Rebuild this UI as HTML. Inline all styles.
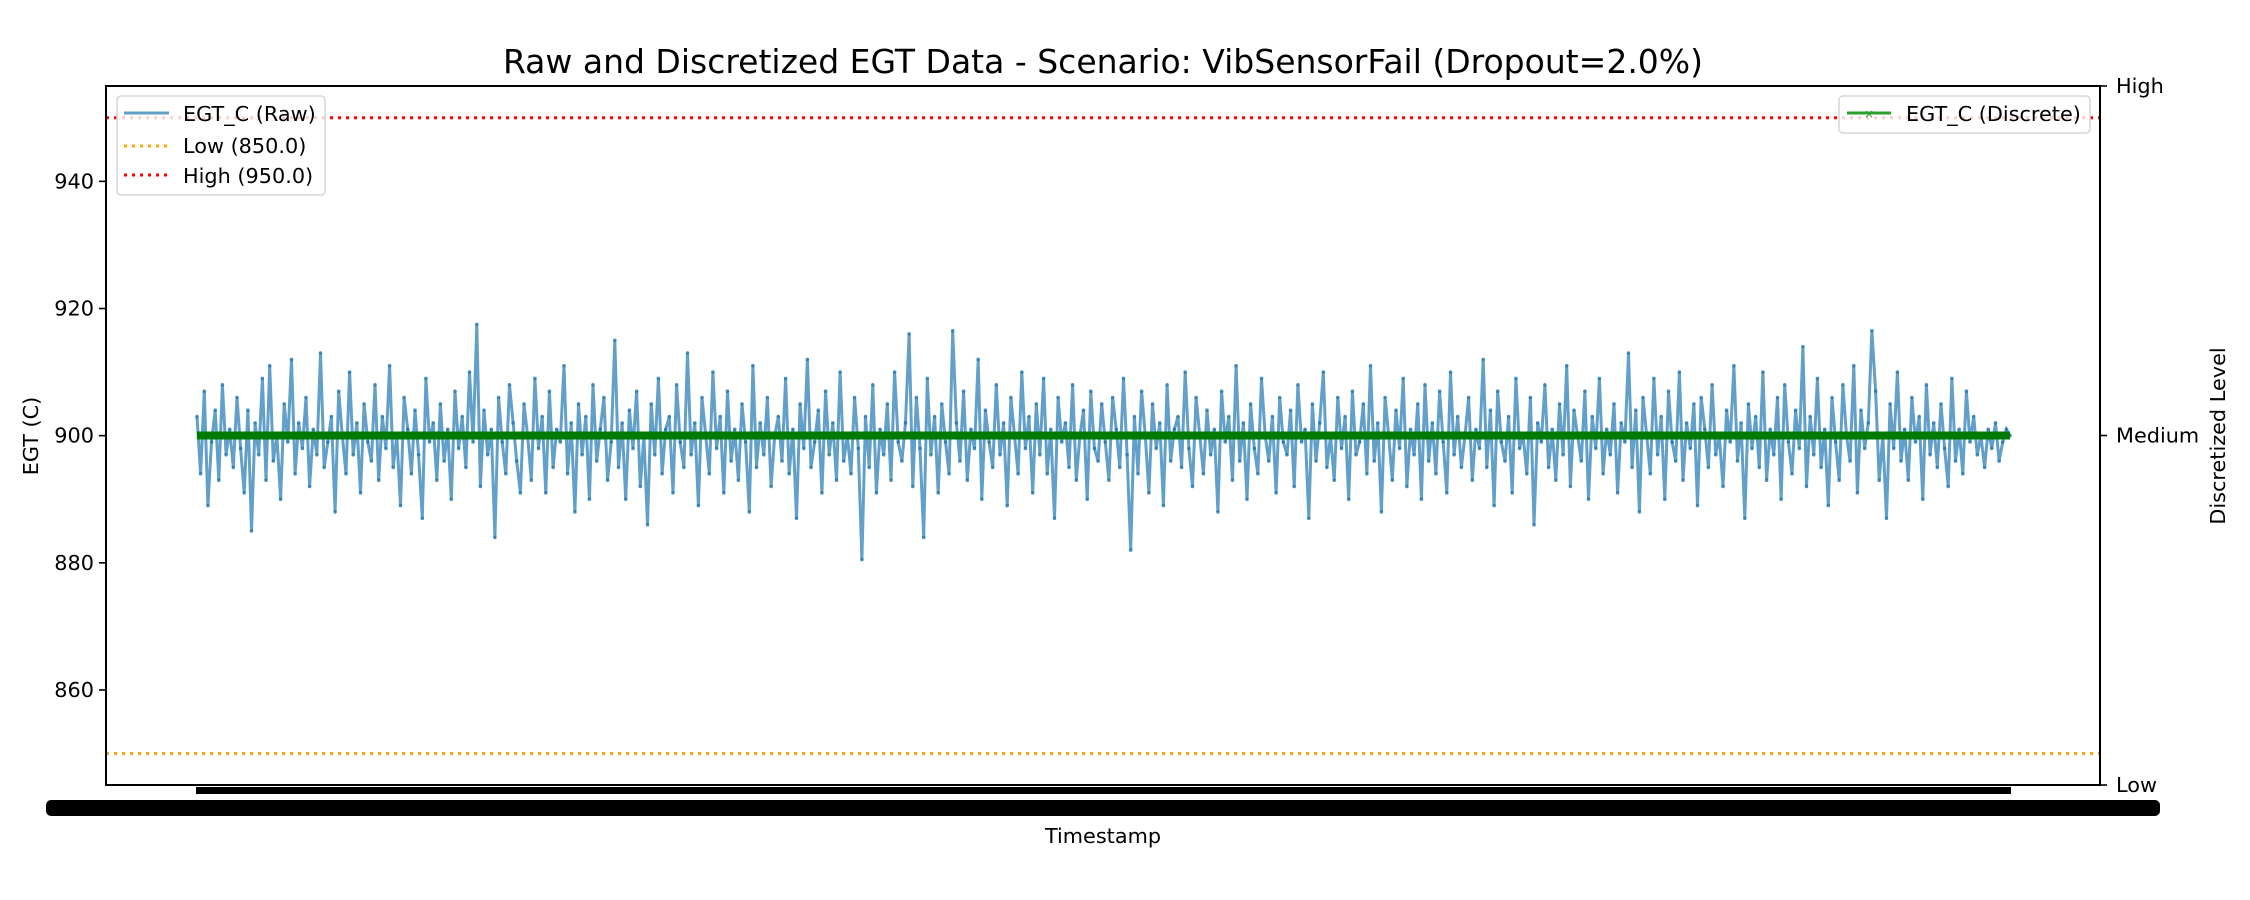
<!DOCTYPE html>
<html><head><meta charset="utf-8"><style>
html,body{margin:0;padding:0;background:#fff;}
svg{display:block;font-family:"DejaVu Sans","Liberation Sans",sans-serif;}
</style></head><body>
<svg id="chart" width="2250" height="900" viewBox="0 0 2250 900">
<rect width="2250" height="900" fill="#fff"/>
<text x="1103" y="73" font-size="33" text-anchor="middle" fill="#000">Raw and Discretized EGT Data - Scenario: VibSensorFail (Dropout=2.0%)</text>
<g id="plot"></g>
<g id="axes"></g>
<text x="1103" y="843" font-size="20.8" text-anchor="middle">Timestamp</text>
<text transform="translate(38,436) rotate(-90)" font-size="20.8" text-anchor="middle">EGT (C)</text>
<text transform="translate(2225,436) rotate(-90)" font-size="20.8" text-anchor="middle">Discretized Level</text>
<g>
<rect x="117" y="96" width="208" height="99" rx="4" fill="#fff" fill-opacity="0.8" stroke="#d6d6d6" stroke-width="1.5"/>
<g><line x1="124" y1="113" x2="169" y2="113" stroke="#1f77b4" stroke-opacity="0.7" stroke-width="3"/><text x="183" y="121" font-size="20.8">EGT_C (Raw)</text></g>
<g><line x1="124" y1="146" x2="169" y2="146" stroke="orange" stroke-width="3" stroke-dasharray="3,5"/><text x="183" y="153" font-size="20.8">Low (850.0)</text></g>
<g><line x1="124" y1="175" x2="169" y2="175" stroke="red" stroke-width="3" stroke-dasharray="3,5"/><text x="183" y="183" font-size="20.8">High (950.0)</text></g>
</g>
<g>
<rect x="1839" y="96" width="251" height="37" rx="4" fill="#fff" fill-opacity="0.8" stroke="#d6d6d6" stroke-width="1.5"/>
<g><line x1="1847" y1="113" x2="1891" y2="113" stroke="#2ca02c" stroke-width="3"/><text x="1869" y="118" font-size="12" fill="#2ca02c" text-anchor="middle">×</text><text x="1906" y="121" font-size="20.8">EGT_C (Discrete)</text></g>
</g>
</svg>
<script>
const egtRaw=[
903,894,907,889,899,904,893,908,897,901,
895,906,898,891,904,885,902,897,909,893,
911,896,900,890,905,899,912,894,902,898,
906,892,901,897,913,895,899,903,888,907,
900,894,910,897,902,891,905,899,896,908,
893,903,898,911,895,900,889,906,901,894,
904,897,887,909,899,902,893,905,896,901,
890,907,898,903,895,910,899,917.5,892,904,
897,901,884,906,899,894,908,902,896,891,
905,900,893,909,898,903,891,907,895,901,
899,911,894,902,888,905,897,903,890,908,
896,901,906,893,899,915,895,902,890,904,
898,907,892,900,886,905,897,909,894,901,
903,891,908,899,895,913,897,902,889,906,
900,894,910,898,903,891,907,896,901,893,
905,899,888,911,895,902,897,906,892,900,
903,896,909,894,901,887,905,898,912,895,
899,904,891,907,897,902,893,910,896,900,
894,906,898,880.5,903,895,908,891,901,897,
905,893,910,899,896,902,916,892,906,898,
884,909,897,903,891,905,899,894,916.5,902,
896,907,893,901,898,912,890,904,899,895,
908,897,902,889,906,900,894,910,898,903,
891,905,897,909,894,901,887,906,899,902,
895,908,893,900,904,890,907,898,896,905,
899,893,906,901,895,909,897,882,903,894,
907,900,891,905,898,902,889,908,896,901,
903,895,910,898,892,906,900,894,904,897,
901,888,907,899,903,893,911,896,902,890,
905,898,894,909,900,896,903,891,906,899,
897,904,892,908,899,901,887,905,896,902,
910,895,900,893,906,898,903,890,907,897,
899,905,894,911,896,902,888,906,900,893,
904,898,909,892,901,897,905,890,908,896,
902,894,907,899,891,910,897,903,895,900,
906,893,901,898,912,895,904,889,907,899,
896,903,891,909,898,900,894,906,886,902,
899,908,895,901,893,905,897,911,892,904,
900,896,907,890,903,898,909,894,901,897,
905,891,902,899,913,895,904,888,906,900,
894,909,897,903,890,907,899,896,910,893,
902,898,905,889,906,901,895,908,897,900,
892,904,899,911,896,902,887,905,898,903,
895,910,893,901,897,906,890,908,899,894,
904,898,914,892,903,897,909,895,901,889,
906,899,893,908,900,896,911,891,904,898,
902,916.5,907,893,900,887,905,898,910,896,
901,893,906,899,903,890,908,897,902,895,
905,898,892,909,896,901,894,907,899,903,
897,900,895,901,898,902,896,899,901,900];
const yTicks=[860,880,900,920,940];
const levelLabels=['Low','Medium','High'];
const thresholds=[850,950];
const NS='http://www.w3.org/2000/svg';
const L=106,R=2100,T=86,B=785,X0=197,X1=2010,YMIN=845.05,YMAX=955.0;
const xs=i=>X0+i*(X1-X0)/(egtRaw.length-1);
const ys=v=>B-(v-YMIN)/(YMAX-YMIN)*(B-T);
const yl=l=>B-l/(levelLabels.length-1)*(B-T);
const discrete=egtRaw.map(v=>v<thresholds[0]?0:(v>thresholds[1]?2:1));
function mk(tag,attrs,parent){const e=document.createElementNS(NS,tag);for(const k in attrs)e.setAttribute(k,attrs[k]);parent.appendChild(e);return e;}
const plot=document.getElementById('plot'),axes=document.getElementById('axes');
const lo=mk('line',{x1:L,x2:R,y1:ys(thresholds[0]),y2:ys(thresholds[0]),stroke:'orange','stroke-width':3,'stroke-dasharray':'3,5'},plot);


const hi=mk('line',{x1:L,x2:R,y1:ys(thresholds[1]),y2:ys(thresholds[1]),stroke:'red','stroke-width':3,'stroke-dasharray':'3,5'},plot);


let d='';egtRaw.forEach((v,i)=>{d+=(i?'L':'M')+xs(i).toFixed(1)+','+ys(v).toFixed(1);});
const raw=mk('path',{d:d,fill:'none',stroke:'#1f77b4','stroke-opacity':0.7,'stroke-width':3},plot);


const dots=mk('g',{fill:'#1f77b4','fill-opacity':0.8},plot);


egtRaw.forEach((v,i)=>{const c=mk('circle',{cx:xs(i).toFixed(1),cy:ys(v).toFixed(1),r:1.8},dots);

});
let d2='';discrete.forEach((l,i)=>{d2+=(i?'L':'M')+xs(i).toFixed(1)+','+yl(l).toFixed(1);});
const dl=mk('path',{d:d2,fill:'none',stroke:'#007a00','stroke-width':8},plot);


const fr=mk('rect',{x:L,y:T,width:R-L,height:B-T,fill:'none',stroke:'#000','stroke-width':2},axes);


yTicks.forEach(t=>{const y=ys(t);
mk('line',{x1:L-7,x2:L,y1:y,y2:y,stroke:'#000','stroke-width':1.6},axes);
const tx=mk('text',{x:L-12,y:y+7,'font-size':20.8,'text-anchor':'end'},axes);tx.textContent=t;

});
levelLabels.forEach((s,l)=>{const y=yl(l);
mk('line',{x1:R,x2:R+7,y1:y,y2:y,stroke:'#000','stroke-width':1.6},axes);
const tx=mk('text',{x:R+16,y:y+7,'font-size':20.8},axes);tx.textContent=s;

});
const xt=mk('rect',{x:X0-1,y:787,width:X1-X0+2,height:7,fill:'#000'},axes);


const xlab=mk('rect',{x:46,y:800,width:2114,height:16,rx:5,fill:'#000'},axes);


</script>
</body></html>
